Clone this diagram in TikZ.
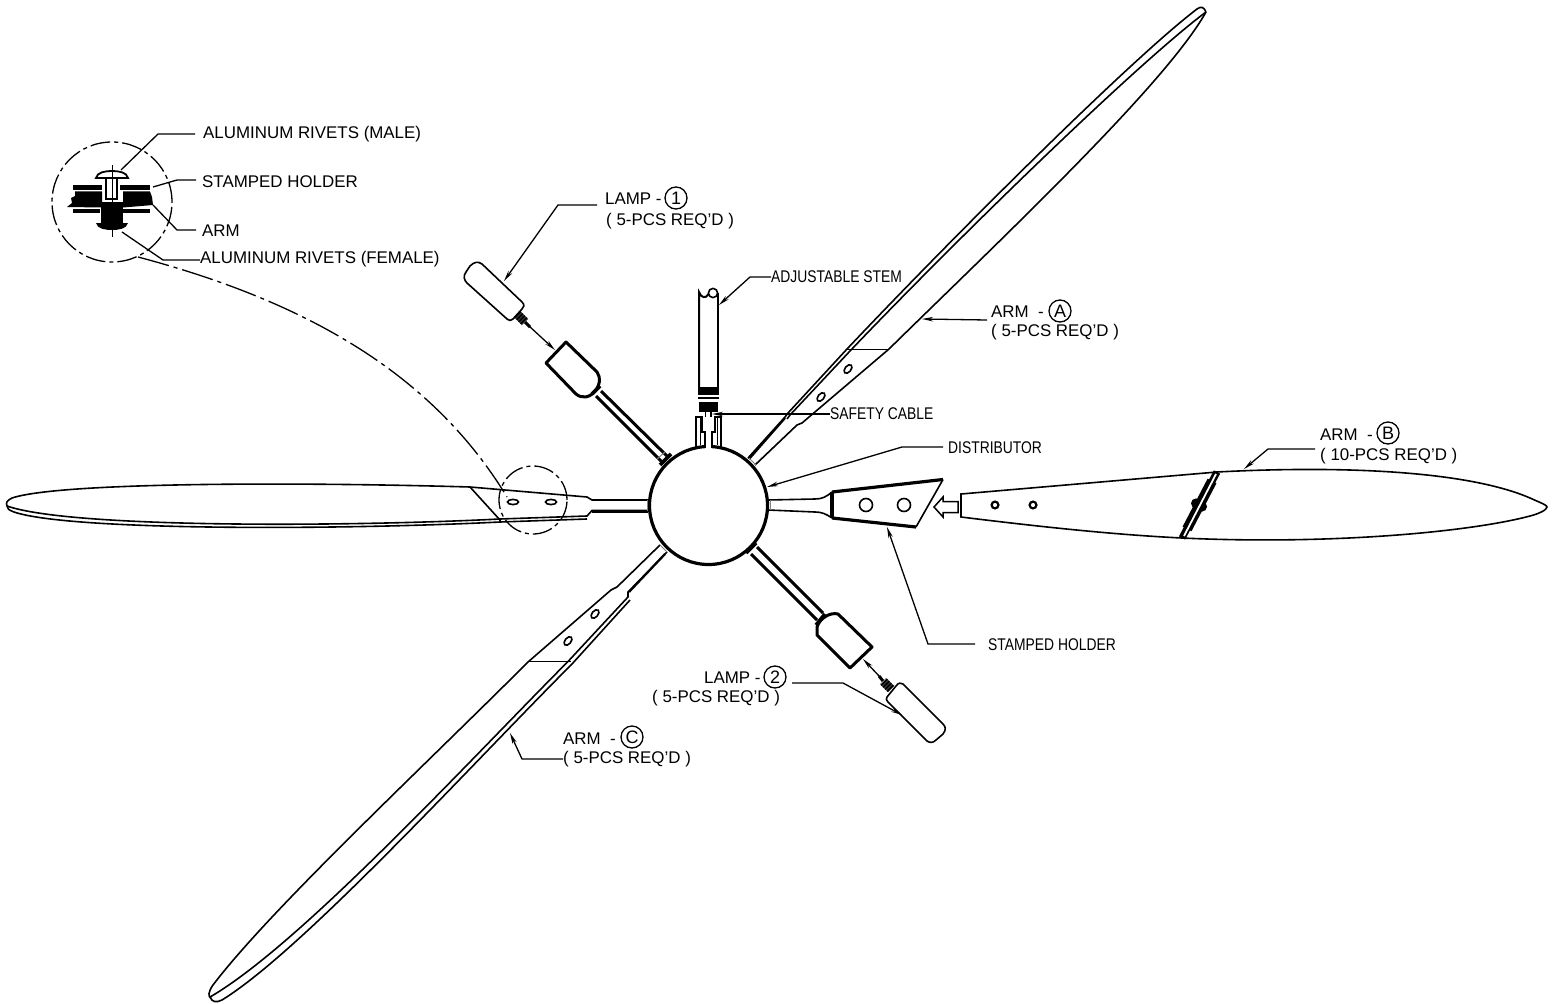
\documentclass[tikz,border=0pt]{standalone}
\usepackage{fontspec}
\setmainfont{Liberation Sans}
\newfontfamily\narrowfont[FakeStretch=0.82]{Liberation Sans}
\usetikzlibrary{arrows.meta}
\tikzset{
  armline/.style={line width=1.6pt},
  heavyline/.style={line width=3pt},
  leader/.style={line width=1.3pt,-{Stealth[length=11pt,width=4.5pt]}},
  plainleader/.style={line width=1.3pt},
  centerline/.style={line width=1.3pt,dash pattern=on 20pt off 4pt on 4pt off 4pt},
  longcenterline/.style={line width=1.3pt,dash pattern=on 32pt off 5pt on 4pt off 5pt},
  collar/.style={line width=1pt,gray},
  note/.style={anchor=west,inner sep=0pt,yshift=-1pt,font=\fontsize{16.9}{18}\selectfont},
  narrownote/.style={anchor=west,inner sep=0pt,yshift=-1pt,font=\fontsize{16.9}{18}\narrowfont},
  callout/.style={circle,draw,line width=1.3pt,minimum size=22pt,inner sep=0pt,font=\fontsize{18}{18}\selectfont},
  hole/.style={line width=1.6pt}
}
\begin{document}
\begin{tikzpicture}[x=1pt,y=-1pt]
\useasboundingbox (0,0) rectangle (1562,1003);
% distributor
\draw[line width=3.2pt] (708.5,505.5) circle[radius=59pt];
\draw[white,line width=7pt] (708.2,444) -- (708.2,450);
% socket on top
\draw[line width=2pt] (696,448) -- (696,417) -- (702,417) -- (702,432) -- (704.5,432) -- (704.5,447.5);
\draw[line width=2pt] (721,448) -- (721,417) -- (715,417) -- (715,432) -- (712,432) -- (712,447.5);
\draw[line width=1pt] (700,417) -- (700,445);
\draw[line width=1pt] (717,417) -- (717,445);
% adjustable stem
\draw[line width=2pt] (699,387) -- (699,292) .. controls (701,298) and (706,299) .. (708.5,294);
\draw[line width=2pt] (718,387) -- (718,293);
\draw[line width=1.6pt] (713,293) circle[radius=4.6pt];
\fill (698,387) rectangle (719,395);
\fill (698,397) rectangle (719,399);
\fill (699,402) rectangle (718,412);
\draw[line width=1.2pt] (705.5,412) -- (705.5,417);
\draw[line width=1.2pt] (711,412) -- (711,417);
% lamp 1
\draw[heavyline,line join=round] (566,342) -- (546,363) -- (576,394) .. controls (582,399) and (590,398) .. (596,390) .. controls (600,384) and (601,378) .. (597,372) -- cycle;
\draw[line width=3.6pt] (592,394) -- (600,386);
\draw[heavyline] (601,391) -- (668,457);
\draw[heavyline] (596,396) -- (662,462);
\draw[line width=3.6pt] (660,465) -- (671,454);
\draw[collar] (657,459) -- (665,452);
\draw[armline,line join=round] (470,266) .. controls (474,262) and (478,261) .. (482,264) -- (522,302) .. controls (525,305) and (524,307) .. (522,309) -- (513,319) .. controls (511,321) and (509,321) .. (507,319) -- (467,283) .. controls (464,280) and (463,276) .. (466,272) -- cycle;
\draw[line width=9pt,dash pattern=on 2.2pt off .6pt] (517,314) -- (525,322);
\draw[line width=3pt] (525,322) -- (530,327);
% lamp 2
\draw[heavyline,line join=round] (872,647) -- (850,668) -- (817,635) -- (817,627) .. controls (820,618) and (830,612) .. (838,614) -- cycle;
\draw[line width=3.6pt] (816,625) -- (825,614);
\draw[heavyline] (757,547) -- (823,613);
\draw[heavyline] (751,554) -- (817,620);
\draw[line width=3.6pt] (746,553) -- (756,543);
\draw[armline,line join=round] (887,697) -- (896,686) .. controls (898,683) and (901,682) .. (903,684) -- (943,724) .. controls (946,727) and (946,730) .. (943,734) -- (936,740) .. controls (933,743) and (930,743) .. (927,741) -- (888,702) .. controls (886,700) and (886,699) .. (887,697) -- cycle;
\draw[line width=9pt,dash pattern=on 2.2pt off .6pt] (891,689) -- (883,681);
\draw[line width=3pt] (883,681) -- (879,676);
\coordinate (socketlow) at (863,659);
\coordinate (lamplow) at (880,677);
\coordinate (sockettop) at (555,350);
\coordinate (lamptop) at (529,326);
\draw[leader] (lamptop) -- (sockettop);
\draw[leader] (lamplow) -- (socketlow);
% arm A
\draw[armline] (748,458) -- (785,417) -- (788,413) -- (847,349) .. controls (950,240) and (1130,60) .. (1197,9) .. controls (1201,6) and (1204,7) .. (1206,12);
\draw[armline] (787,419) -- (790,415) -- (850,351) .. controls (950,246) and (1135,65) .. (1206,12);
\draw[armline] (755,465) -- (797,425) -- (802,423) -- (889,349) .. controls (1000,240) and (1165,85) .. (1206,12);
\draw[armline] (846,349.5) -- (889,349.5);
\draw[hole] (848,369) ellipse[x radius=5pt,y radius=3pt,rotate=50];
\draw[hole] (821,397) ellipse[x radius=5pt,y radius=3pt,rotate=50];
\draw[line width=2.2pt] (785,418) -- (749,459);
\draw[collar] (749,458) -- (756,465);
% arm C
\draw[armline] (660,545) -- (617,587) -- (611,590) -- (528,662) .. controls (420,770) and (270,910) .. (213,985) .. controls (208,992) and (208,997) .. (211,998);
\draw[armline] (667,552) -- (628,592) -- (628,597) -- (568,661.5) .. controls (470,760) and (300,945) .. (210,997);
\draw[armline] (630,600) -- (572,664) .. controls (473,763) and (303,950) .. (222,1000) .. controls (216,1003) and (212,1002) .. (210,997);
\draw[armline] (528,661.5) -- (571,661.5);
\draw[hole] (595,614) ellipse[x radius=5pt,y radius=3pt,rotate=50];
\draw[hole] (568,641) ellipse[x radius=5pt,y radius=3pt,rotate=50];
\draw[line width=2.2pt] (629,592) -- (665,554);
\draw[collar] (660,545) -- (667,552);
% left arm
\draw[armline] (648,500) -- (592,500) -- (587,497) -- (470,487) .. controls (300,482) and (60,482) .. (12,498) .. controls (6,501) and (6,503) .. (7,506);
\draw[armline] (648,510.5) -- (592,510.5) -- (587,516) -- (500,519) .. controls (340,527) and (70,528) .. (7,506);
\draw[armline] (587,519) -- (500,522) .. controls (340,530) and (70,531) .. (14,512) .. controls (9,510) and (7,509) .. (7,506);
\draw[armline] (470,487) -- (500,520) -- (500,522);
\draw[hole] (513,502) ellipse[x radius=5.5pt,y radius=2.6pt];
\draw[hole] (551,502) ellipse[x radius=5.5pt,y radius=2.6pt];
\draw[line width=2.2pt] (592,511.5) -- (648,511.5);
\draw[collar] (647,500) -- (647,511);
\draw[centerline] (533,500) circle[radius=34pt];
% right arm and holder
\draw[armline] (768,500) -- (815,499) .. controls (822,499) and (826,497) .. (832,492);
\draw[armline] (768,510) -- (815,512) .. controls (822,512) and (826,514) .. (832,518);
\draw[collar] (770,500) -- (770,510);
\draw[line width=3.2pt] (832,492) -- (832,518);
\draw[line width=3.2pt] (832,492) -- (943,479.5);
\draw[line width=3.2pt] (832,518) -- (916,527);
\draw[armline] (943,479.5) -- (916,527);
\draw[hole] (866,505) circle[radius=6.5pt];
\draw[hole] (904,505) circle[radius=6.5pt];
\draw[line width=1.5pt] (958,501.5) -- (943,501.5) -- (943,497) -- (934,507) -- (943,517) -- (943,512.5) -- (958,512.5) -- cycle;
\draw[armline] (961,494) -- (1217,472) .. controls (1350,465) and (1470,472) .. (1530,498) .. controls (1541,503) and (1547,505) .. (1547,507) .. controls (1547,510) and (1538,514) .. (1530,516) .. controls (1470,532) and (1330,545) .. (1182,538) .. controls (1120,535) and (1050,528) .. (961,517) -- cycle;
\draw[line width=2.2pt] (995,505) circle[radius=3.4pt];
\draw[line width=2.2pt] (1033,505) circle[radius=3.4pt];
\draw[line width=7pt] (1217,472) -- (1182,538);
\draw[line width=10pt] (1212,481) -- (1187,529);
\fill (1196,503.4) circle[radius=5pt];
\fill (1202,506.6) circle[radius=5pt];
\draw[white,line width=1.8pt] (1216,474) -- (1184,536);
% rivet detail
\draw[centerline] (112,202) circle[radius=60pt];
\draw[line width=1pt] (112,165) -- (112,237);
\fill (73,185.5) rectangle (102,190);
\fill (120,185.5) rectangle (150,190);
\fill (75,191.5) -- (102,191.5) -- (102,207.5) -- (67,207) -- (72,203) -- (71,198) -- (75,196) -- cycle;
\fill (123,191.5) -- (150,191.5) -- (152,197) -- (153,205) -- (123,207.5) -- cycle;
\fill (73,208.5) rectangle (100,213);
\fill (123,208.5) rectangle (150,213);
\draw[line width=1.8pt] (96,178) .. controls (97,172) and (106,171) .. (112,171) .. controls (118,171) and (127,172) .. (128,178) -- cycle;
\draw[line width=1.8pt] (106,178) -- (106,199) -- (117,199) -- (117,178);
\fill (101,202) rectangle (123,223);
\fill (96,223) -- (128,223) .. controls (127,229) and (118,230) .. (112,230) .. controls (106,230) and (97,229) .. (96,223) -- cycle;
\draw[line width=1pt] (112,230) -- (112,237);
% detail leader
\coordinate (detailfrom) at (138,257);
\coordinate (detailto) at (507,497);
\draw[longcenterline] (detailfrom) .. controls (300,300) and (430,370) .. (detailto);
% labels
\node[note] (lblmale) at (203,133) {ALUMINUM RIVETS (MALE)};
\node[note] (lblholder) at (202,181) {STAMPED HOLDER};
\node[note] (lblarm) at (202,230) {ARM};
\node[note] (lblfemale) at (200,258) {ALUMINUM RIVETS (FEMALE)};
\coordinate (rivmale) at (121,170);
\coordinate (rivholder) at (153,187);
\coordinate (rivarm) at (153,205);
\coordinate (rivfemale) at (122,232);
\coordinate (malefrom) at (195,134);
\coordinate (holderfrom) at (196,180);
\coordinate (armfrom) at (196,230);
\draw[plainleader] (malefrom) -- (158,134) -- (rivmale);
\draw[plainleader] (holderfrom) -- (177,180) -- (rivholder);
\draw[plainleader] (armfrom) -- (177,230) -- (rivarm);
\draw[plainleader] (lblfemale.west) ++(0,1) -- (163,260) -- (rivfemale);
\node[note] (lamponetxt) at (605,198) {LAMP -};
\node[callout] (lampone) at (676,198) {1};
\node[note] (lamponereq) at (606,220) {( 5-PCS REQ'D )};
\coordinate (lamponefrom) at (597,205);
\coordinate (lamponeend) at (504,281);
\draw[leader] (lamponefrom) -- (558,205) -- (lamponeend);
\node[narrownote] (lblstem) at (771,276) {ADJUSTABLE STEM};
\coordinate (stemend) at (719,305);
\draw[leader] (lblstem.west) -- (750,277) -- (stemend);
\node[narrownote] (lblcable) at (830,413) {SAFETY CABLE};
\coordinate (cableend) at (712,414);
\draw[leader] (lblcable.west) -- (cableend);
\node[narrownote] (lbldist) at (948,447) {DISTRIBUTOR};
\coordinate (distfrom) at (943,447);
\coordinate (distend) at (767,487);
\draw[leader] (distfrom) -- (902,447) -- (distend);
\node[note] (armatxt) at (991,311) {ARM \ -};
\node[callout] (arma) at (1060,311) {A};
\node[note] (armareq) at (991,331) {( 5-PCS REQ'D )};
\coordinate (armafrom) at (987,320);
\coordinate (armaend) at (922,319);
\draw[leader] (armafrom) -- (armaend);
\node[note] (armbtxt) at (1320,434) {ARM \ -};
\node[callout] (armb) at (1388,433) {B};
\node[note] (armbreq) at (1320,455) {( 10-PCS REQ'D )};
\coordinate (armbfrom) at (1315,449);
\coordinate (armbend) at (1244,469);
\draw[leader] (armbfrom) -- (1268,449) -- (armbend);
\node[narrownote] (lblholderlow) at (988,644) {STAMPED HOLDER};
\coordinate (holderlowfrom) at (975,644);
\coordinate (holderend) at (887,527);
\draw[leader] (holderlowfrom) -- (928,644) -- (holderend);
\node[note] (lamptwotxt) at (704,677) {LAMP -};
\node[callout] (lamptwo) at (775,677) {2};
\node[note] (lamptworeq) at (652,697) {( 5-PCS REQ'D )};
\coordinate (lamptwofrom) at (792,683);
\coordinate (lamptwoend) at (902,715);
\draw[leader] (lamptwofrom) -- (843,683) -- (lamptwoend);
\node[note] (armctxt) at (563,738) {ARM \ -};
\node[callout] (armc) at (632,737) {C};
\node[note] (armcreq) at (563,758) {( 5-PCS REQ'D )};
\coordinate (armcend) at (510,733);
\draw[leader] (armcreq.west) -- (522,759) -- (armcend);
\end{tikzpicture}
\end{document}
